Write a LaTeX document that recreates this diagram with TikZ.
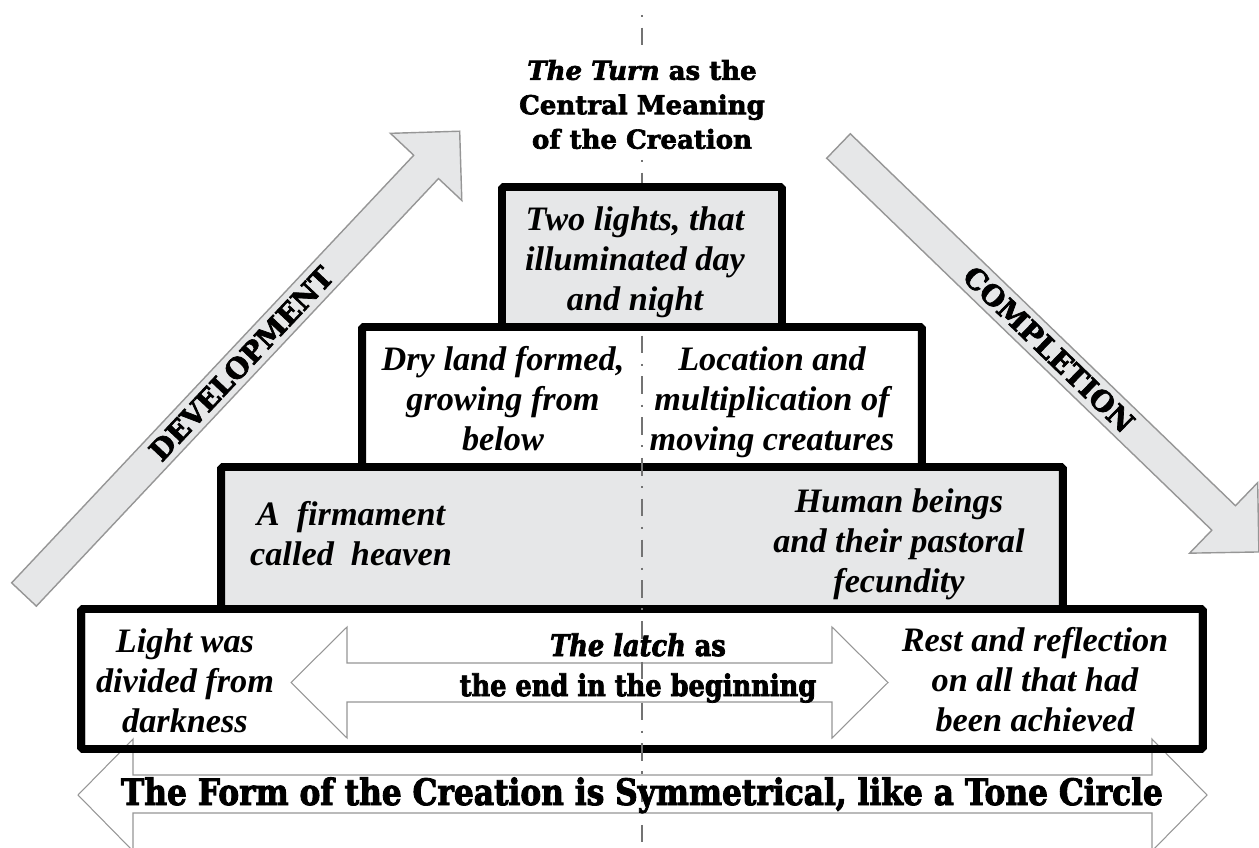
\documentclass[tikz,border=0pt]{standalone}
\usepackage{fontspec}
\setmainfont{Liberation Serif}
\newfontfamily\slab{DejaVu Serif}[BoldFeatures={FakeBold=2.5}, BoldItalicFeatures={FakeBold=2.5}]
\newfontfamily\slabn{DejaVu Serif}[FakeStretch=0.86, BoldFeatures={FakeBold=2.5}, BoldItalicFeatures={FakeBold=2.5}]
\usetikzlibrary{calc}
\definecolor{tiergray}{RGB}{230,231,232}
\definecolor{edgegray}{RGB}{150,150,150}
\definecolor{axisgray}{RGB}{115,115,115}
\begin{document}
\begin{tikzpicture}[x=0.02cm,y=-0.02cm,
  tier/.style={draw=black, line width=4.5pt, rounded corners=1pt, inner sep=0pt, outer sep=0pt},
  boxtext/.style={font=\fontsize{19.5}{22.8}\selectfont\bfseries\itshape, align=center, inner sep=0pt},
  fat/.style={fill=tiergray, draw=edgegray, line width=0.8pt, line join=miter},
  hollow/.style={fill=white, draw=edgegray, line width=0.6pt, line join=miter},
  heavy/.style={font=\fontsize{16}{19}\slab\bfseries, inner sep=0pt},
  axis/.style={draw=axisgray, line width=1.2pt, dash pattern=on 1.2pt off 6pt on 10pt off 6pt}
]
\useasboundingbox (0,0) rectangle (1259,848);

% tiers (bottom to top)
\node[tier, fill=white, minimum width=22.44cm, minimum height=2.8cm] (tier4) at (642,679) {};
\node[tier, fill=tiergray, minimum width=16.84cm, minimum height=2.84cm] (tier3) at (642,538) {};
\node[tier, fill=white, minimum width=11.2cm, minimum height=2.8cm] (tier2) at (642,397) {};

% latch double arrow
\path[hollow] (291,682.5) -- (347,627) -- (347,663) -- (832,663) -- (832,627) -- (888,682.5)
  -- (832,738) -- (832,702) -- (347,702) -- (347,738) -- cycle;

% bottom double arrow
\path[hollow] (78,795) -- (133,739) -- (133,775) -- (1152,775) -- (1152,739) -- (1207,795)
  -- (1152,851) -- (1152,813) -- (133,813) -- (133,851) -- cycle;
\draw[tier] (tier4.north west) rectangle (tier4.south east);

% development arrow
\begin{scope}[shift={(24,594.5)}, rotate=46.76]
  \path[fat] (0,-17) -- (587,-17) -- (587,-49) -- (636,0) -- (587,49) -- (587,17) -- (0,17) -- cycle;
  \node[heavy, transform shape] (dev) at (317,0) {DEVELOPMENT};
\end{scope}

% completion arrow
\begin{scope}[shift={(838.5,146)}, rotate=-44]
  \path[fat] (0,-17) -- (535.4,-17) -- (535.4,-49) -- (584.4,0) -- (535.4,49) -- (535.4,17) -- (0,17) -- cycle;
  \node[heavy, transform shape] (comp) at (292.6,0) {COMPLETION};
\end{scope}

% central axis
\coordinate (axtop) at (642,15);
\coordinate (axa) at (642,50);
\coordinate (axb) at (642,160);
\coordinate (axbot) at (642,848);
\draw[axis] (axtop) -- (axa);
\draw[axis] (axb) -- (axbot);

% top tier
\node[tier, fill=tiergray, minimum width=5.6cm, minimum height=2.8cm] (tier1) at (642,257) {};

% texts
\node[font=\fontsize{14.8}{19.6}\slab\bfseries, align=center, inner sep=0pt] (turn) at (642,104.5)
  {\textit{The Turn} as the\\Central Meaning\\of the Creation};
\node[boxtext] (t1) at (635,262) {Two lights, that\\illuminated day\\and night};
\node[boxtext] (t2l) at (503,398.5) {Dry land formed,\\growing from\\below};
\node[boxtext] (t2r) at (772,402) {Location and\\multiplication of\\moving creatures};
\node[boxtext] (t3l) at (351,534) {A\ \ firmament\\called\ \ heaven};
\node[boxtext] (t3r) at (899,544) {Human beings\\and their pastoral\\fecundity};
\node[boxtext] (t4l) at (185,681) {Light was\\divided from\\darkness};
\node[boxtext] (t4r) at (1035,679.5) {Rest and reflection\\on all that had\\been achieved};
\node[font=\fontsize{17}{22.8}\slabn\bfseries, align=center, inner sep=0pt] (latch) at (638,668)
  {\textit{The latch} as\\the end in the beginning};
\node[anchor=base, inner sep=0pt] (form) at (642,805)
  {\resizebox{20.84cm}{!}{\fontsize{17}{20}\slabn\bfseries The Form of the Creation is Symmetrical, like a Tone Circle}};
\end{tikzpicture}
\end{document}
